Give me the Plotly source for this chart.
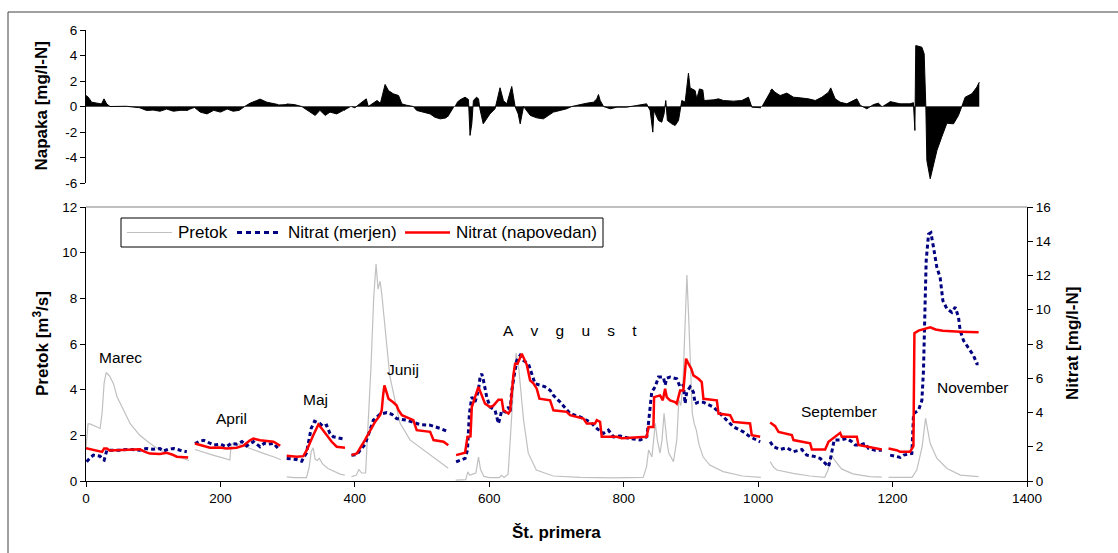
import plotly.graph_objects as go

W, H = 1118, 553
FONT = "Liberation Sans"

# Pretok (m3/s) - gray line, None = gap between months
pretok_x = [0, 3, 6, 14, 21, 24, 27, 30, 35, 41, 46, 56, 66, 80, 95, 110, 130, 150, 153, None,
            162, 175, 190, 205, 214, 216, 222, 235, 250, 265, 280, 290, None,
            298.6, 310, 328, 332, 335, 338, 341, 344, 347, 352, 360, 370, 378, 385, None,
            395, 402, 406, 410, 416, 418, 420, 424, 428, 431.5, 434.5, 437.5, 440, 444, 448, 452, 457,
            467, 482, 502, 522, 539, None,
            550, 565, 568, 571, 575, 580, 584, 587, 592, 600, 615, 618, 622, 628, 632, 635, 638, 640,
            644, 648, 651, 658, 670, 695, 735, 784, 829, 834, 837, 842, 847, 850, 854, 857, 860, 864,
            867, 874, 879, 882, 885, 888, 891, 894, 897, 900.5, 902, 905, 908, 912, 918, 928, 948, 977,
            1004, None,
            1018, 1023, 1028, 1052, 1077, 1099, 1104, 1109, 1114, 1124, 1141, 1166, 1184, None,
            1194, 1229, 1236, 1244, 1249, 1251, 1256, 1266, 1281, 1301, 1328]
pretok_y = [1.45, 2.5, 2.5, 2.4, 2.3, 3.0, 4.3, 4.75, 4.6, 4.25, 3.7, 3.1, 2.5, 2.0, 1.65, 1.35, 1.15, 0.92, 0.9, None,
            1.38, 1.25, 1.12, 1.0, 0.92, 1.6, 1.68, 1.52, 1.35, 1.2, 1.05, 0.93, None,
            0.18, 0.15, 0.15, 0.6, 1.28, 1.45, 0.95, 0.9, 1.0, 0.75, 0.55, 0.4, 0.3, 0.26, None,
            0.19, 0.25, 0.5, 0.35, 0.35, 1.5, 3.0, 5.0, 8.0, 9.5, 8.4, 8.75, 8.2, 7.0, 5.6, 4.6, 3.9,
            2.55, 1.8, 1.36, 0.92, 0.56, None,
            0.04, 0.06, 0.4, 0.25, 0.3, 0.35, 1.05, 0.5, 0.2, 0.15, 0.15, 0.25, 0.15, 0.3, 2.2, 3.7, 5.0, 5.6,
            4.9, 3.6, 2.67, 1.22, 0.48, 0.22, 0.16, 0.14, 0.16, 0.63, 1.36, 1.05, 2.53, 1.8, 1.22, 1.8, 2.97, 1.8,
            1.22, 0.85, 1.8, 3.55, 3.3, 4.2, 6.5, 9.02, 6.9, 4.57, 2.97, 2.5, 2.23, 1.6, 1.06, 0.7, 0.41, 0.22,
            0.16, None,
            0.85, 0.6, 0.48, 0.33, 0.22, 0.16, 0.48, 1.14, 0.9, 0.53, 0.31, 0.19, 0.17, None,
            0.16, 0.16, 0.48, 1.5, 2.75, 2.45, 1.64, 0.99, 0.55, 0.26, 0.19]

# Nitrat (merjen) - mg/l-N
merjen_x = [1, 6, 11, 17, 21, 24, 27, 31, 50, 65, 80, 90, 100, 110, 115, 122, 130, 140, 150, None,
            162, 168, 175, 182, 190, 200, 209, 216, 224, 232, 239, 249, 255, 259, 265, 270, 279, 286, None,
            298.6, 313, 321, 328, 335, 340, 348, 353, 358, 363, 368, 378, 385, None,
            395, 403, 410, 415, 420, 427.5, 437.5, 447.5, 455, 462, 477, 497, 512, 527, 539, None,
            550.6, 564, 567.5, 570.4, 574, 578.9, 583.8, 586.3, 588.8, 591.3, 596.2, 601.2, 608.6, 613.6,
            616, 618.5, 623.5, 628.5, 631, 633.4, 635.9, 638.4, 640.9, 645.8, 650.8, 658.2, 663.2, 668.1,
            675.6, 683, 690.5, 695.4, 705.4, 720.2, 735.1, 750, 759.9, 769.8, 777.2, 784.7, 794.6, 809.5,
            824.4, 834.3, 836.8, 839.3, 841.7, 846.7, 851.7, 859.1, 861.6, 864, 869, 878.9, 883.9, 888.8,
            891.3, 893.8, 898.8, 903.7, 906.2, 911.2, 918.6, 933.5, 948.4, 963.3, 978.1, 988, 1003, None,
            1017.9, 1022.8, 1032.8, 1042.7, 1052.6, 1065, 1072.4, 1082.4, 1092.3, 1099.7, 1104.7, 1107.2,
            1109.6, 1113.1, 1122, 1132, 1139.4, 1144.4, 1151.8, 1159.2, 1164.2, 1174.1, 1184, None,
            1196.4, 1211.3, 1216.3, 1228.7, 1231.2, 1238.6, 1243.6, 1246, 1248.5, 1250, 1253.5, 1257, 1261,
            1265.9, 1270.8, 1274.8, 1280.8, 1288.2, 1293.2, 1298.1, 1300.6, 1305.6, 1310.5, 1315.5, 1320.4,
            1325.4, 1327.9]
merjen_y = [1.12, 1.35, 1.51, 1.5, 1.45, 1.28, 1.22, 1.8, 1.8, 1.85, 1.8, 1.9, 1.85, 1.9, 1.75, 1.85, 1.9, 1.8, 1.71, None,
            2.19, 2.3, 2.38, 2.25, 2.1, 2.15, 2.0, 2.2, 2.15, 2.3, 2.05, 2.3, 2.15, 2.0, 2.2, 2.15, 2.2, 1.9, None,
            1.32, 1.26, 1.16, 1.64, 3.07, 3.49, 3.36, 3.17, 3.26, 2.77, 2.58, 2.52, 2.44, None,
            1.51, 1.55, 1.9, 2.13, 2.68, 3.55, 3.9, 4.0, 3.9, 3.65, 3.55, 3.3, 3.26, 3.07, 2.87, None,
            1.12, 1.32, 1.8, 3.94, 4.9, 4.62, 5.29, 6.07, 6.26, 5.88, 4.9, 4.32, 4.13, 3.36,
            3.7, 4.13, 4.04, 4.32, 4.04, 5.29, 5.88, 6.46, 7.04, 7.33, 7.04, 6.85, 6.26, 5.68,
            5.6, 5.5, 5.3, 5.0, 4.61, 3.94, 3.74, 3.45, 3.07, 2.78, 2.97, 2.58, 2.62, 2.48,
            2.39, 2.58, 3.36, 4.32, 5.2, 5.49, 6.07, 6.07, 5.6, 6.0, 6.07, 5.97, 5.49, 5.6,
            4.52, 5.2, 5.49, 5.2, 4.52, 4.6, 4.6, 4.32, 3.74, 3.16, 2.87, 2.58, 2.29, None,
            2.29, 2.0, 1.84, 1.94, 1.71, 1.84, 1.51, 1.45, 1.32, 1.03, 0.84, 1.22,
            1.8, 2.39, 2.39, 2.48, 2.29, 2.1, 2.1, 2.2, 1.9, 1.8, 1.8, None,
            1.51, 1.38, 1.51, 1.61, 3.94, 4.13, 4.71, 6.46, 10.53, 12.86, 14.41, 14.5, 13.63,
            12.47, 11.88, 10.53, 10.06, 9.85, 10.15, 9.56, 8.78, 8.2, 7.91, 7.62, 7.33,
            6.85, 6.85]

# Nitrat (napovedan) - mg/l-N
napovedan_x = [0, 8, 15, 21, 24, 27, 31, 35, 50, 65, 80, 88, 95, 110, 120, 128, 135, 152, None,
               162, 174.6, 184.5, 199, 209, 224, 234, 244, 249, 259, 269, 279, 289, None,
               298.6, 313.5, 323.4, 328.4, 338.3, 345.7, 350.7, 358.2, 365.6, 373, 385.4, None,
               395, 403, 412, 422, 430, 437.5, 440, 442, 444, 447, 450, 457, 462, 465, 470, 487, 492, 512,
               517, 532, 539, None,
               550.6, 564, 567.5, 572, 574, 578.9, 583.8, 588.8, 593.7, 601.2, 606.1, 613.6, 618.5, 621,
               628.5, 631, 633.4, 635.9, 638.4, 642, 648.3, 650.8, 655.7, 660.7, 665.6, 670.6, 674.6, 690.5,
               695.4, 715.3, 720.2, 740, 745, 757.4, 759.9, 764.8, 767.3, 789.7, 797.1, 834.3, 836.8, 844.2,
               845.2, 854.1, 858.1, 861.6, 864, 869, 876.4, 878.9, 883.9, 888.8, 892.8, 896.3, 900.5, 903.7,
               911.2, 916.1, 918.6, 938.5, 941, 958.3, 963.3, 988, 990.5, 1003, None,
               1017.9, 1025.3, 1030.3, 1040.2, 1050.1, 1052.6, 1067.5, 1077.4, 1079.9, 1099.7, 1104.7, 1114.6,
               1122, 1124.5, 1146.8, 1149.3, 1161.7, 1171.6, 1184, None,
               1194, 1206, 1211, 1226, 1231, 1232.5, 1238.6, 1248.5, 1256, 1264, 1274.8, 1300.6, 1328]
napovedan_y = [1.92, 1.85, 1.8, 1.74, 1.7, 1.9, 1.9, 1.78, 1.8, 1.8, 1.85, 1.7, 1.6, 1.58, 1.65, 1.55, 1.42, 1.37, None,
               2.19, 2.06, 1.94, 1.96, 1.9, 1.94, 2.06, 2.38, 2.48, 2.38, 2.33, 2.29, 2.06, None,
               1.47, 1.42, 1.45, 1.8, 2.68, 3.3, 3.07, 2.68, 2.29, 2.0, 1.94, None,
               1.51, 1.61, 2.19, 2.87, 3.45, 3.84, 4.13, 5.0, 5.58, 5.2, 4.81, 4.6, 4.42, 4.13, 3.84, 3.55, 2.97, 2.87,
               2.39, 2.29, 2.09, None,
               1.51, 1.65, 2.58, 2.6, 4.32, 4.9, 5.49, 5.0, 4.52, 4.32, 4.4, 4.75, 4.75, 4.13,
               3.94, 4.1, 5.29, 6.2, 6.85, 6.85, 7.43, 7.2, 6.8, 5.88, 5.7, 5.39, 4.81, 4.71,
               4.13, 4.04, 3.84, 3.65, 3.36, 3.36, 3.55, 3.45, 2.58, 2.58, 2.5, 2.58, 3.16, 3.16,
               4.9, 5.0, 4.71, 5.39, 4.9, 4.71, 4.61, 4.52, 5.29, 5.29, 7.14, 6.85, 6.56, 6.17,
               5.97, 5.78, 4.8, 4.71, 3.94, 3.84, 3.45, 3.36, 2.68, 2.58, None,
               3.41, 3.2, 2.87, 2.78, 2.68, 2.39, 2.29, 2.2, 1.84, 1.84, 2.29, 2.58,
               2.81, 2.58, 2.58, 2.1, 2.0, 1.9, 1.84, None,
               1.9, 1.8, 1.71, 1.71, 2.03, 8.63, 8.78, 8.88, 8.98, 8.85, 8.78, 8.72, 8.68]

# Napaka (mg/l-N) - top panel
napaka_x = [0, 3.4, 8.4, 18, 23, 26.8, 30.8, 35.7, 60, 80, 90, 100, 110, 120, 130, 140, 150, 152, None,
            162, 170, 180, 190, 200, 210, 219, 228, 236, 244, 254, 259, 269, 279, 286, None,
            298.6, 310, 321, 333, 341, 348, 356, 363, 373, 383, 385, None,
            395, 400, 407, 417, 420, 425, 433, 438, 442, 445, 450, 457, 465, 470, 477, 487, 492, 502, 512,
            519, 527, 535, 540, None,
            551.6, 556.5, 564, 569, 571.4, 574, 576.4, 581, 584, 586, 591, 596, 601, 608.6, 613.6, 616, 621,
            626, 633.4, 638.4, 643, 646, 651, 656, 661, 670.6, 680.5, 688, 695.4, 705.4, 715, 722.7, 735,
            745, 755, 760, 762.4, 765, 770, 780, 790, 804.5, 819.5, 834, 839.3, 843.3, 845, 851.7, 856.6,
            860, 862.6, 865, 871.5, 876.5, 881.5, 886.4, 891.4, 896.3, 898.8, 906.2, 908.7, 912.7, 917.7,
            919.6, 933.5, 941, 948.4, 963.3, 975.7, 985.6, 990.6, 1000.5, 1004, None,
            1018, 1020.4, 1025, 1032.8, 1042.7, 1052.6, 1062.5, 1075, 1085, 1094.8, 1104.7, 1108, 1114.6,
            1122, 1132, 1146.8, 1151.8, 1161.7, 1171.6, 1179, 1184, None,
            1196, 1211, 1226, 1231, 1233.2, 1234.5, 1243.6, 1247, 1249.5, 1251, 1256, 1260, 1266, 1273,
            1280.8, 1290.7, 1298, 1303, 1308, 1318, 1325.4, 1329]
napaka_y = [0.86, 0.73, 0.34, 0.21, 0.2, 0.6, 0.2, 0.0, 0.02, -0.1, -0.31, -0.28, -0.37, -0.2, -0.37, -0.3, -0.31, -0.3, None,
            -0.1, -0.44, -0.58, -0.3, -0.44, -0.2, -0.37, -0.3, 0.0, 0.26, 0.47, 0.58, 0.34, 0.26, 0.15, None,
            0.2, 0.15, 0.0, -0.44, -0.7, -0.3, -0.7, -0.44, -0.58, -0.3, -0.3, None,
            0.0, -0.1, 0.2, 0.6, 0.0, 0.2, 0.47, 0.25, 1.2, 1.73, 1.25, 1.0, 0.86, 0.2, 0.1, 0.0, -0.31, -0.44, -0.58,
            -0.84, -0.97, -0.9, -0.7, None,
            0.3, 0.52, 0.73, 0.55, -2.27, -1.36, 0.47, 0.73, 0.6, -0.18, -1.36, -0.97, -0.58, -0.18, 1.0, 1.47, 0.47,
            0.2, 1.57, 0.0, -0.58, -1.36, 0.0, -0.31, -0.7, -0.89, -0.97, -0.7, -0.44, -0.31, -0.18, 0.0, 0.16,
            0.26, 0.34, 0.6, 0.94, 0.47, 0.0, -0.18, -0.05, -0.05, 0.08, 0.21, -0.31, -2.01, -0.31, -1.1, -1.23,
            -0.58, 0.47, -1.1, -1.36, -1.49, -1.1, 0.47, 0.34, 2.61, 1.46, 1.25, 0.6, 1.38, 1.3,
            0.47, 0.52, 0.6, 0.47, 0.42, 0.47, 0.73, -0.05, -0.1, -0.1, None,
            1.2, 1.38, 1.12, 0.86, 1.05, 0.73, 0.68, 0.6, 0.47, 0.73, 1.12, 1.46, 0.6,
            0.34, 0.21, 0.6, 0.1, -0.18, 0.15, 0.26, 0.0, None,
            0.39, 0.21, 0.21, 0.3, -1.88, 4.78, 4.65, 4.13, 0.0, -4.24, -5.67, -4.76, -3.45, -2.41,
            -1.31, -1.36, -0.7, 0.0, 0.73, 1.0, 1.52, 1.91]

# month labels (x = sample no., y = pretok scale)
mesec_ime = ["Marec", "April", "Maj", "Junij", "A v g u s t", "September", "November"]
mesec_x = [51, 217, 341.5, 472, 720, 1121, 1320]
mesec_y = [5.4, 2.75, 3.58, 4.9, 6.57, 3.04, 4.1]

napaka_ticks = [-6, -4, -2, 0, 2, 4, 6]

fig = go.Figure()

fig.add_trace(go.Scatter(x=napaka_x, y=napaka_y, xaxis="x2", yaxis="y3", mode="lines",
                         fill="tozeroy", fillcolor="black", line=dict(color="black", width=1),
                         showlegend=False, name="Napaka"))
fig.add_trace(go.Scatter(x=pretok_x, y=pretok_y, mode="lines", name="Pretok",
                         line=dict(color="#C0C0C0", width=1.2), showlegend=False))
fig.add_trace(go.Scatter(x=merjen_x, y=merjen_y, yaxis="y2", mode="lines", name="Nitrat (merjen)",
                         line=dict(color="#000080", width=3, dash="4px,3px"), showlegend=False))
fig.add_trace(go.Scatter(x=napovedan_x, y=napovedan_y, yaxis="y2", mode="lines", name="Nitrat (napovedan)",
                         line=dict(color="#FF0000", width=2.5), showlegend=False))

xdom = [86 / W, 1027 / W]
tickfont = dict(family=FONT, size=13.5, color="black")
axis_common = dict(showgrid=False, zeroline=False, showline=True, linecolor="black", linewidth=1,
                   ticks="outside", ticklen=5, tickcolor="black", tickfont=tickfont, automargin=False)

fig.update_layout(
    width=W, height=H,
    margin=dict(l=0, r=0, t=0, b=0, autoexpand=False),
    paper_bgcolor="white", plot_bgcolor="white",
    showlegend=False,
    xaxis=dict(domain=xdom, range=[0, 1400], dtick=200, tick0=0, anchor="y", **axis_common),
    yaxis=dict(domain=[(H - 481) / H, (H - 207) / H], range=[0, 12], dtick=2, anchor="x", **axis_common),
    yaxis2=dict(overlaying="y", side="right", range=[0, 16], dtick=2, anchor="x", **axis_common),
    xaxis2=dict(domain=xdom, range=[0, 1400], anchor="y3", visible=False),
    yaxis3=dict(domain=[(H - 183) / H, (H - 30) / H], range=[-6, 6], anchor="x2",
                tickmode="array", tickvals=napaka_ticks, ticktext=[str(t) for t in napaka_ticks],
                **axis_common),
)

shapes = []
# outer chart frame (cut off at the right / bottom like the source)
shapes.append(dict(type="rect", xref="paper", yref="paper", x0=8 / W, x1=1.05, y0=-0.05, y1=(H - 12) / H,
                   line=dict(color="#404040", width=1), layer="below"))
# grey top border of lower plot area
shapes.append(dict(type="line", xref="x domain", yref="y domain", x0=0, x1=1, y0=1, y1=1,
                   line=dict(color="#808080", width=1)))
# zero line of error panel
shapes.append(dict(type="line", xref="x2", yref="y3", x0=0, x1=max(v for v in napaka_x if v is not None),
                   y0=0, y1=0, line=dict(color="#A0A0A0", width=1), layer="below"))

# manual legend
ly = (H - 232.5) / H
shapes.append(dict(type="rect", xref="paper", yref="paper", x0=121 / W, x1=603 / W,
                   y0=(H - 247) / H, y1=(H - 218) / H, line=dict(color="black", width=1),
                   fillcolor="white"))
legend_items = [("Pretok", dict(color="#C0C0C0", width=1.2), 127, 176),
                ("Nitrat (merjen)", dict(color="#000080", width=3, dash="5px,4px"), 237, 286),
                ("Nitrat (napovedan)", dict(color="#FF0000", width=2.5), 405, 454)]
annotations = []
for name, ln, x0, tx in legend_items:
    shapes.append(dict(type="line", xref="paper", yref="paper", x0=x0 / W, x1=(x0 + 45) / W,
                       y0=ly, y1=ly, line=ln))
    annotations.append(dict(text=name, xref="paper", yref="paper", x=tx / W, y=ly, xanchor="left",
                            yanchor="middle", showarrow=False, font=dict(family=FONT, size=17, color="black")))

for ime, mx, my in zip(mesec_ime, mesec_x, mesec_y):
    label = ime.replace(" ", "\u00a0" * 4)
    annotations.append(dict(text=label, x=mx, y=my, xref="x", yref="y", showarrow=False,
                            xanchor="center", yanchor="middle",
                            font=dict(family=FONT, size=15.5, color="black")))

title_font = dict(family=FONT, size=17, color="black")
annotations += [
    dict(text="<b>Napaka [mg/l-N]</b>", xref="paper", yref="paper", x=41 / W, y=(H - 106.5) / H,
         textangle=-90, showarrow=False, font=title_font, xanchor="center", yanchor="middle"),
    dict(text="<b>Pretok [m<sup>3</sup>/s]</b>", xref="paper", yref="paper", x=41 / W, y=(H - 344) / H,
         textangle=-90, showarrow=False, font=title_font, xanchor="center", yanchor="middle"),
    dict(text="<b>Nitrat [mg/l-N]</b>", xref="paper", yref="paper", x=1072 / W, y=(H - 344) / H,
         textangle=-90, showarrow=False, font=title_font, xanchor="center", yanchor="middle"),
    dict(text="<b>Št. primera</b>", xref="paper", yref="paper", x=556 / W, y=(H - 532) / H,
         showarrow=False, font=title_font, xanchor="center", yanchor="middle"),
]

fig.update_layout(shapes=shapes, annotations=annotations)

# page without the default body margin so the figure sits at the window's origin
fig.write_html("out.html", config={"displayModeBar": False},
               post_script="document.body.style.margin='0px';document.body.style.overflow='hidden';")
